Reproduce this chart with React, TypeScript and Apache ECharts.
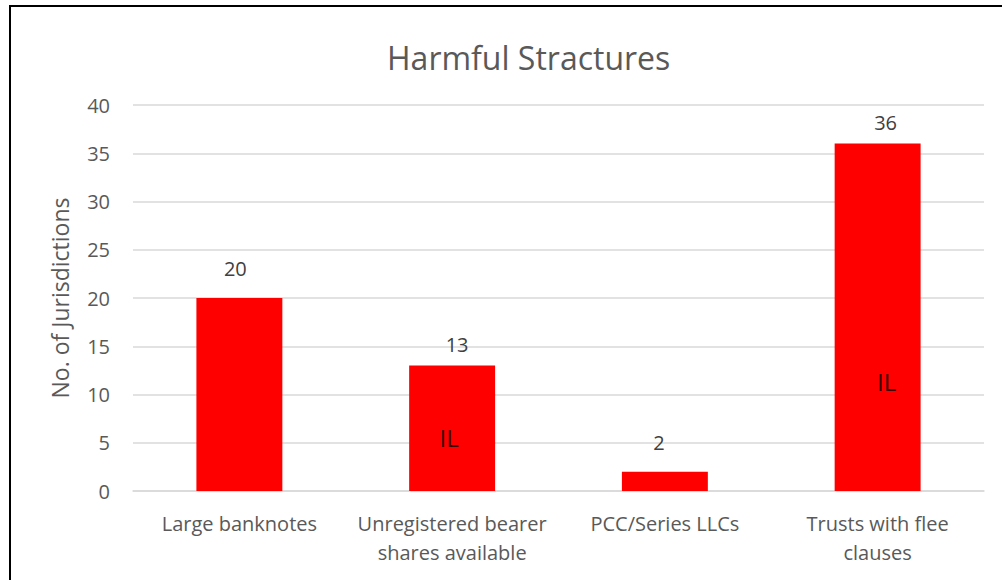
import React, { useEffect, useRef } from "react";
import * as echarts from "echarts";

const categories = [
  "Large banknotes",
  "Unregistered bearer\nshares available",
  "PCC/Series LLCs",
  "Trusts with flee\nclauses",
];
const values = [20, 13, 2, 36];
const ilPositions: (number | null)[] = [null, 5.5, null, 11.3];
const ilText = "IL";
const yTicks = { min: 0, max: 40, interval: 5 };

export default function App() {
  const ref = useRef<HTMLDivElement>(null);
  useEffect(() => {
    const chart = echarts.init(ref.current!, null, { renderer: "svg" });
    const font = "'Open Sans', 'Noto Sans', sans-serif";
    const ilOffsets = [0, -3, 0, 9];
    const labelOffsets = [-4, 5, -6, 8];
    const labelDistances = [20, 11, 19, 11];
    chart.setOption({
      animation: false,
      backgroundColor: "#ffffff",
      title: {
        text: "Harmful Stractures",
        left: 382,
        top: 36,
        textStyle: { fontFamily: font, fontSize: 32, fontWeight: "normal", color: "#595959" },
      },
      graphic: [
        {
          type: "rect",
          shape: { x: 10, y: 6, width: 1100, height: 700 },
          style: { fill: "none", stroke: "#000", lineWidth: 2 },
          silent: true,
        },
      ],
      grid: { left: 133, right: 18, top: 105, bottom: 89, containLabel: false },
      xAxis: {
        type: "category",
        data: categories,
        axisLine: { show: true, lineStyle: { color: "#d9d9d9", width: 1.5 } },
        axisTick: { show: false },
        axisLabel: {
          fontFamily: font,
          fontSize: 20,
          color: "#595959",
          margin: 18,
          lineHeight: 29,
          interval: 0,
        },
      },
      yAxis: {
        type: "value",
        min: yTicks.min,
        max: yTicks.max,
        interval: yTicks.interval,
        name: "No. of Jurisdictions",
        nameLocation: "middle",
        nameGap: 62,
        nameTextStyle: { fontFamily: font, fontSize: 23, color: "#595959" },
        axisLine: { show: false },
        axisTick: { show: false },
        axisLabel: { fontFamily: font, fontSize: 20, color: "#595959", margin: 23 },
        splitLine: { lineStyle: { color: "#d9d9d9", width: 1.5 } },
      },
      series: [
        {
          type: "bar",
          data: values.map((v, i) => ({
            value: v,
            label: { offset: [labelOffsets[i], 0], distance: labelDistances[i] },
          })),
          barWidth: "40.4%",
          itemStyle: { color: "#ff0000" },
          label: {
            show: true,
            position: "top",
            fontFamily: font,
            fontSize: 20,
            color: "#404040",
          },
        },
        {
          type: "scatter",
          data: ilPositions.map((v, i) =>
            v == null ? "-" : { value: v, label: { offset: [ilOffsets[i], 0] } }
          ),
          symbolSize: 0,
          silent: true,
          label: {
            show: true,
            position: "inside",
            formatter: () => ilText,
            fontFamily: font,
            fontSize: 24,
            color: "#000000",
          },
        },
      ],
    });
    return () => chart.dispose();
  }, []);
  return (
    <div
      ref={ref}
      style={{ position: "fixed", left: 0, top: 0, width: 1002, height: 580 }}
    />
  );
}
